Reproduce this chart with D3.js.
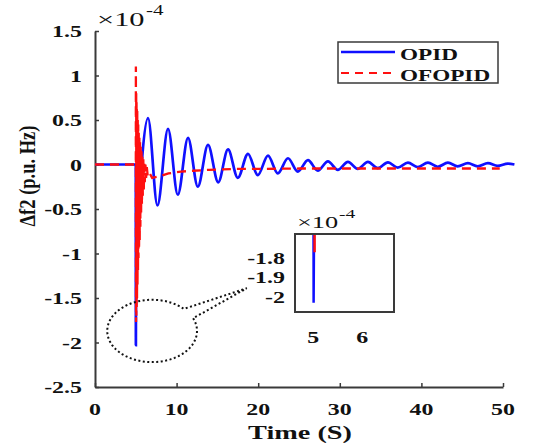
<!DOCTYPE html>
<html>
<head>
<meta charset="utf-8">
<script src="https://cdn.jsdelivr.net/npm/d3@7"></script>
<style>body{margin:0;background:#fff}</style>
</head>
<body>
<svg id="chart"></svg>
<script>
// OPID response (x 1e-4 p.u. Hz) at its turning points
const opidTime = [0, 5.0, 5.01, 5.02, 5.15, 5.4, 5.8, 6.5, 7.65, 8.95, 10.15, 11.4, 12.6, 13.85, 15.1, 16.3, 17.5,
  18.75, 19.95, 21.2, 22.4, 23.65, 24.85, 26.1, 27.3, 28.55, 29.75, 31.0, 32.2, 33.45, 34.65, 35.9, 37.1,
  38.35, 39.55, 40.8, 42.0, 43.25, 44.45, 45.7, 46.9, 48.15, 49.35, 50.6, 51.4];
const opidValue = [0, 0, -2.03, -1.6, -1.0, -0.45, 0.1, 0.52, -0.46, 0.40, -0.34, 0.30, -0.25, 0.22, -0.20, 0.17, -0.15,
  0.12, -0.12, 0.10, -0.10, 0.07, -0.08, 0.05, -0.07, 0.035, -0.06, 0.03, -0.05, 0.03, -0.04, 0.025, -0.035,
  0.02, -0.03, 0.02, -0.025, 0.02, -0.02, 0.015, -0.02, 0.015, -0.015, 0.01, 0];

// OFOPID response
const ofopidTime = [0, 5.0, 5.01, 5.03, 5.05, 5.07, 5.09, 5.11, 5.13, 5.15, 5.18, 5.21, 5.24, 5.27, 5.30, 5.33,
  5.36, 5.40, 5.44, 5.48, 5.52, 5.56, 5.60, 5.65, 5.70, 5.75, 5.80, 5.86, 5.92, 5.98, 6.04, 6.10, 6.18, 6.26,
  6.35, 6.45, 6.6, 7.0, 8.0, 9.0, 10.5, 12.0, 14.0, 17.0, 20.0, 25.0, 30.0, 40.0, 49.6];
const ofopidValue = [0, 0, 1.10, -1.77, 0.80, -1.70, 0.72, -1.60, 0.65, -1.50, 0.60, -1.35, 0.50, -1.20, 0.45, -1.05,
  0.38, -0.95, 0.30, -0.85, 0.25, -0.70, 0.20, -0.55, 0.15, -0.45, 0.10, -0.35, 0.06, -0.28, 0.03, -0.20, 0.0, -0.15,
  -0.03, -0.12, -0.08, -0.15, -0.13, -0.10, -0.08, -0.07, -0.06, -0.05, -0.05, -0.045, -0.045, -0.045, -0.045];

const seriesNames = ['OPID', 'OFOPID'];
const xTicks = [0, 10, 20, 30, 40, 50];
const xTickLabels = ['0', '10', '20', '30', '40', '50'];
const yTicks = [1.5, 1, 0.5, 0, -0.5, -1, -1.5, -2, -2.5];
const yTickLabels = ['1.5', '1', '0.5', '0', '-0.5', '-1', '-1.5', '-2', '-2.5'];
const insetXTicks = [5, 6];
const insetXLabels = ['5', '6'];
const insetYTicks = [-1.8, -1.9, -2];
const insetYLabels = ['-1.8', '-1.9', '-2'];

const width = 533, height = 447;
const blue = '#1010ff', red = '#ff1010', axisColor = '#3a3a3a';
const serif = '"Liberation Serif", "Times New Roman", serif';

const svg = d3.select('#chart').attr('width', width).attr('height', height);

const x = d3.scaleLinear().domain([0, 50]).range([95, 503]);
const y = d3.scaleLinear().domain([-2.5, 1.5]).range([387, 31]);

const opid = opidTime.map((t, i) => [t, opidValue[i]]);
const ofopid = ofopidTime.map((t, i) => [t, ofopidValue[i]]);

// text is horizontally stretched in the source image
function label(g, px, py, s, size, opts = {}) {
  const sx = opts.sx || 1.45;
  return g.append('text')
    .attr('transform', `translate(${px},${py}) scale(${sx},1)` + (opts.rotate ? ` rotate(${opts.rotate})` : ''))
    .attr('text-anchor', opts.anchor || 'middle')
    .style('font', `${opts.weight || 'bold'} ${size}px ${serif}`)
    .attr('fill', '#111')
    .text(s);
}

// axes
const xAxis = svg.append('g')
  .attr('transform', `translate(0,${y(-2.5)})`)
  .call(d3.axisBottom(x).tickValues(xTicks).tickSize(-4).tickSizeOuter(0).tickFormat(''));
const yAxis = svg.append('g')
  .attr('transform', `translate(${x(0)},0)`)
  .call(d3.axisLeft(y).tickValues(yTicks).tickSize(-4).tickSizeOuter(0).tickFormat(''));
[xAxis, yAxis].forEach(a => {
  a.select('.domain').attr('stroke', axisColor).attr('stroke-width', 2);
  a.selectAll('.tick line').attr('stroke', axisColor).attr('stroke-width', 1.5);
});

xTicks.forEach((v, i) => label(svg, x(v), 415, xTickLabels[i], 16.5));
yTicks.forEach((v, i) => label(svg, 82, y(v) + 6, yTickLabels[i], 16.5, { anchor: 'end' }));

label(svg, 300, 439, 'Time (S)', 19.5);
label(svg, 35, 176, '\u0394f2 (p.u. Hz)', 18.5, { rotate: -90, sx: 1.2 });

label(svg, 97, 26, '\u00d710', 19, { anchor: 'start', weight: 'normal', sx: 1.6 });
label(svg, 146, 15, '-4', 14, { anchor: 'start', weight: 'normal', sx: 1.5 });

// series
const smooth = d3.line().x(d => x(d[0])).y(d => y(d[1])).curve(d3.curveMonotoneX);
const straight = d3.line().x(d => x(d[0])).y(d => y(d[1]));

svg.append('path').datum(opid)
  .attr('d', smooth).attr('fill', 'none').attr('stroke', blue).attr('stroke-width', 2.7);
svg.append('path').datum(ofopid)
  .attr('d', straight).attr('fill', 'none').attr('stroke', red).attr('stroke-width', 2.3)
  .attr('stroke-dasharray', '9,6');

// legend
const lg = svg.append('g');
lg.append('rect').attr('x', 338).attr('y', 42).attr('width', 160).attr('height', 41)
  .attr('fill', '#fff').attr('stroke', axisColor).attr('stroke-width', 1.5);
lg.append('line').attr('x1', 341).attr('x2', 395).attr('y1', 52).attr('y2', 52)
  .attr('stroke', blue).attr('stroke-width', 2.5);
lg.append('line').attr('x1', 341).attr('x2', 395).attr('y1', 73).attr('y2', 73)
  .attr('stroke', red).attr('stroke-width', 2.2).attr('stroke-dasharray', '8,6');
label(lg, 400, 60, seriesNames[0], 16, { anchor: 'start' });
label(lg, 400, 81, seriesNames[1], 16, { anchor: 'start' });

// callout: dotted ellipse round the minimum with a tail to the inset
const callout = { t: 7.0, v: -1.87, rt: 5.5, rv: 0.35, tipT: 18.6, tipV: -1.39, a0: -24, a1: 315 };
const pts = d3.range(callout.a0, callout.a1 + 1, 3).map(a => {
  const r = a * Math.PI / 180;
  return [x(callout.t + callout.rt * Math.cos(r)), y(callout.v - callout.rv * Math.sin(r))];
});
pts.push([x(callout.tipT), y(callout.tipV)]);
pts.push(pts[0]);
svg.append('path').attr('d', d3.line()(pts)).attr('fill', 'none')
  .attr('stroke', '#111').attr('stroke-width', 2).attr('stroke-dasharray', '2,2.5');

// inset zoom
const ix = d3.scaleLinear().domain([4.63, 6.65]).range([295, 394]);
const iy = d3.scaleLinear().domain([-2.077, -1.677]).range([312, 234]);
const inset = svg.append('g');
inset.append('clipPath').attr('id', 'insetClip').append('rect')
  .attr('x', 295).attr('y', 234).attr('width', 99).attr('height', 78);
const ig = inset.append('g').attr('clip-path', 'url(#insetClip)');
ig.append('path').datum(opid)
  .attr('d', d3.line().x(d => ix(d[0])).y(d => iy(d[1])))
  .attr('fill', 'none').attr('stroke', blue).attr('stroke-width', 2.5);
ig.append('path').datum(ofopid.slice(0, 4))
  .attr('d', d3.line().x(d => ix(d[0])).y(d => iy(d[1])))
  .attr('fill', 'none').attr('stroke', red).attr('stroke-width', 2.5);
inset.append('rect').attr('x', 295).attr('y', 234).attr('width', 99).attr('height', 78)
  .attr('fill', 'none').attr('stroke', axisColor).attr('stroke-width', 2);
insetYTicks.forEach((v, i) => label(inset, 285, iy(v) + 6, insetYLabels[i], 16.5, { anchor: 'end' }));
insetXTicks.forEach((v, i) => label(inset, ix(v), 343, insetXLabels[i], 16.5));
label(inset, 297, 228, '\u00d710', 17, { anchor: 'start', weight: 'normal', sx: 1.55 });
label(inset, 339, 218, '-4', 13, { anchor: 'start', weight: 'normal', sx: 1.5 });
</script>
</body>
</html>
